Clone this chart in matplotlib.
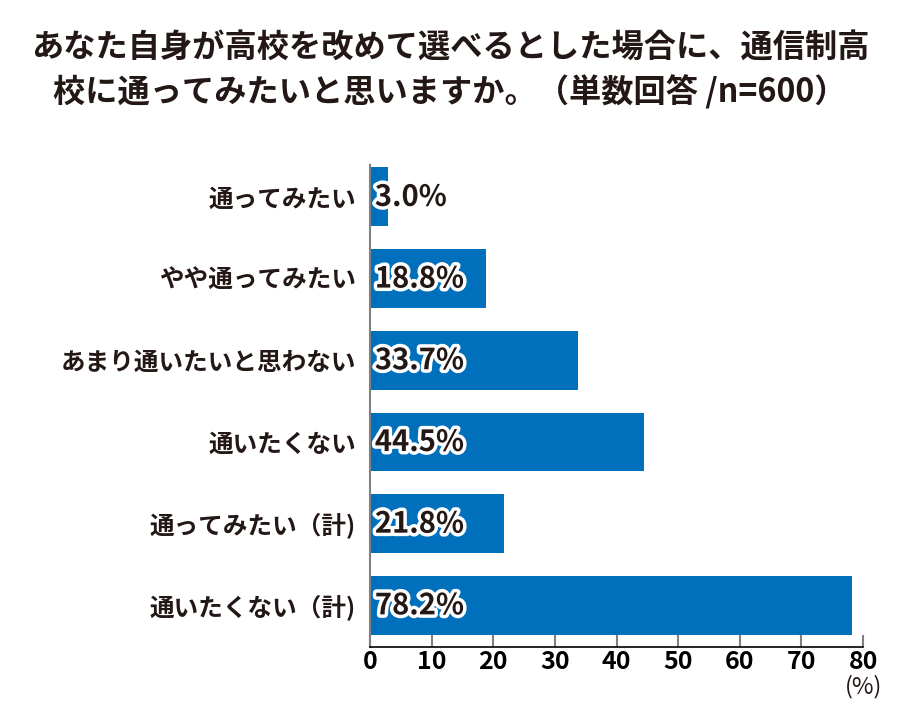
import matplotlib
matplotlib.use('Agg')
import matplotlib.pyplot as plt
import matplotlib.patheffects as pe

plt.rcParams['font.family'] = ['Noto Sans CJK JP', 'DejaVu Sans']

# データ
categories = ['通ってみたい', 'やや通ってみたい', 'あまり通いたいと思わない',
              '通いたくない', '通ってみたい（計)', '通いたくない（計)']
values = [3.0, 18.8, 33.7, 44.5, 21.8, 78.2]
xticks = [0, 10, 20, 30, 40, 50, 60, 70, 80]

title = 'あなた自身が高校を改めて選べるとした場合に、通信制高\n校に通ってみたいと思いますか。（単数回答 /n=600）'

text_color = '#231815'
bar_color = '#0070BD'

fig = plt.figure(figsize=(9, 7.27), dpi=100, facecolor='white')
ax = fig.add_axes([0.411, 0.110, 0.548, 0.663])

y = list(range(len(categories)))
ax.barh(y, values, height=0.72, color=bar_color)

# 値ラベル（白フチ）
for yi, v in zip(y, values):
    ax.text(0.8, yi, f'{v:.1f}%', ha='left', va='center', fontsize=21,
            fontweight='bold', color=text_color,
            path_effects=[pe.withStroke(linewidth=5, foreground='white')])

ax.set_ylim(5.51, -0.39)
ax.set_xlim(0, 80)

ax.set_yticks(y)
ax.set_yticklabels(categories, fontsize=17.7, fontweight='bold', color=text_color)
ax.tick_params(axis='y', length=0, pad=10)

ax.set_xticks(xticks)
ax.set_xticklabels([str(t) for t in xticks], fontsize=18, fontweight='bold', color='black')
ax.tick_params(axis='x', direction='in', length=9, width=1.5, color='#808080', pad=2)

ax.spines['top'].set_visible(False)
ax.spines['right'].set_visible(False)
ax.spines['left'].set_color('#808080')
ax.spines['left'].set_linewidth(1.5)
ax.spines['bottom'].set_color('black')
ax.spines['bottom'].set_linewidth(1.2)

ax.text(1.0, -0.058, '(%)', transform=ax.transAxes, ha='center', va='top',
        fontsize=17, color=text_color)

fig.text(0.5, 0.957, title, ha='center', va='top', fontsize=23.2,
         fontweight='bold', color=text_color, linespacing=1.4)

fig.savefig('out.png', dpi=100, facecolor='white')
plt.close()
